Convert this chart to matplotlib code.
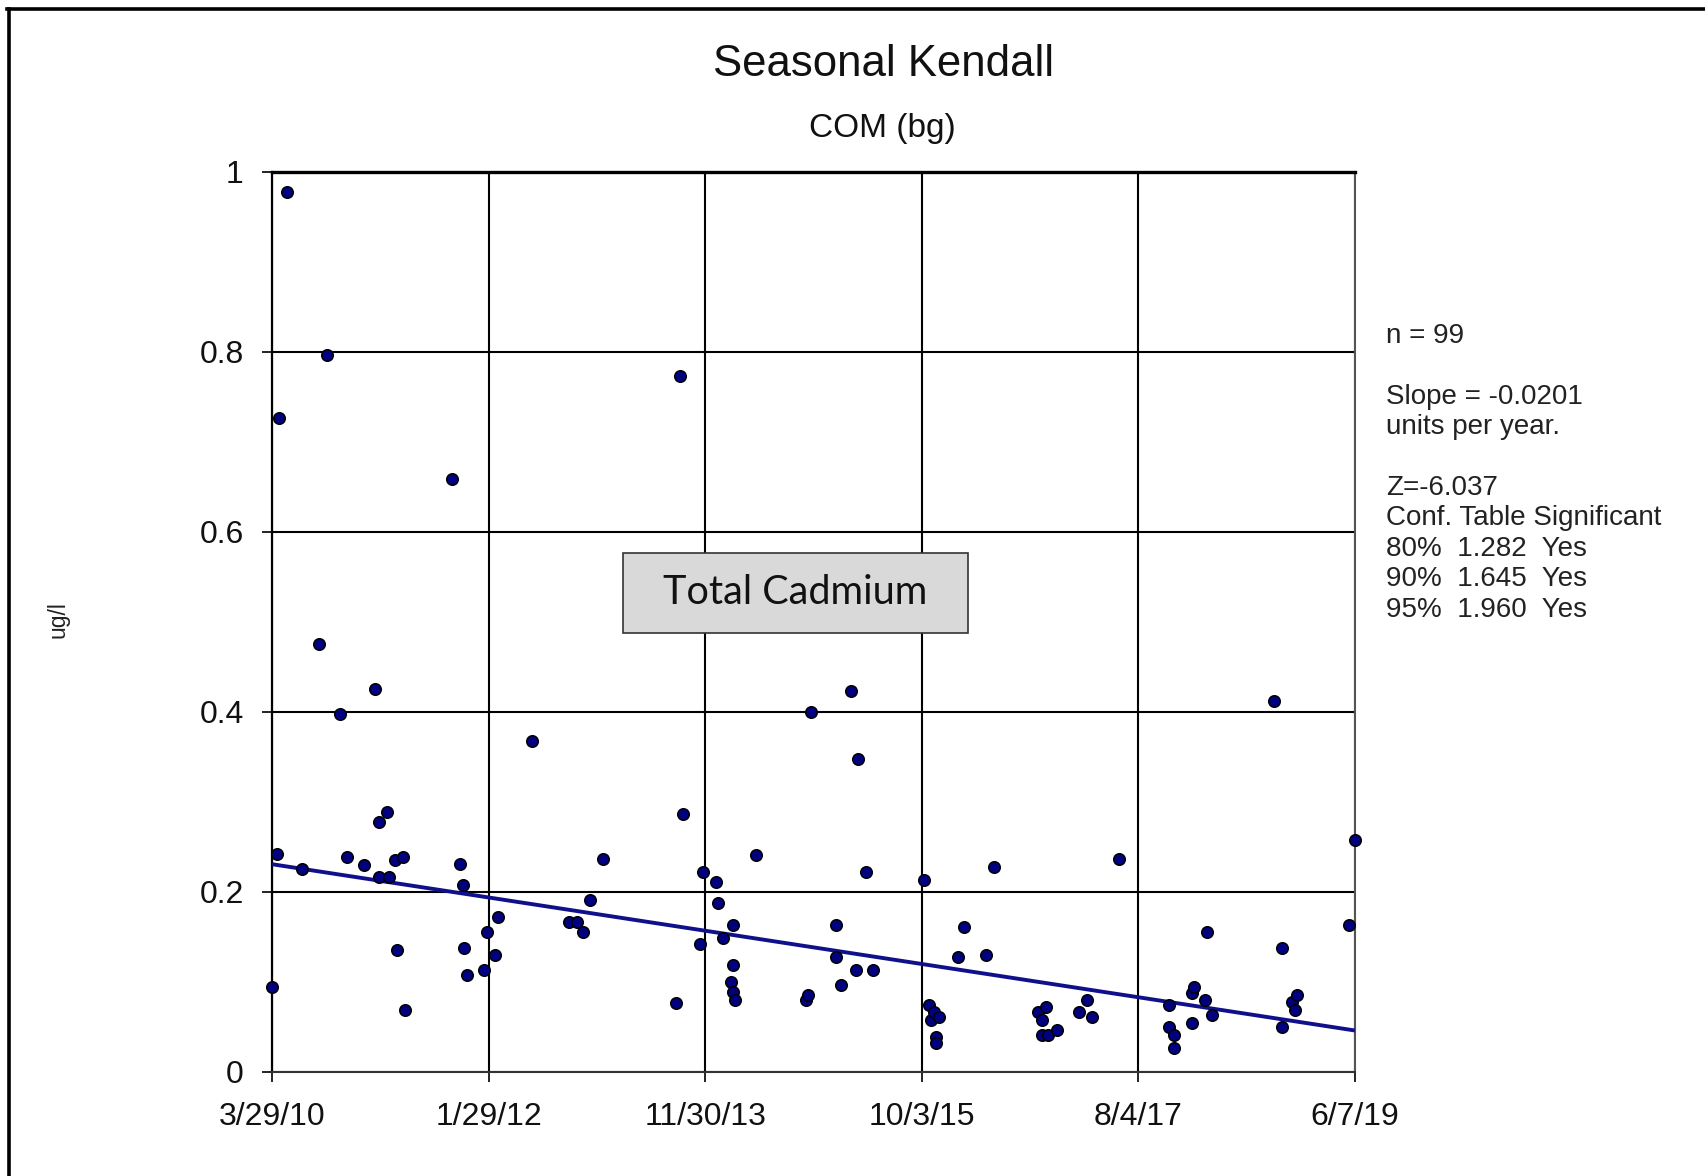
#!/usr/bin/env python
"""
Seasonal Kendall trend plot for Total Cadmium, COM (bg).

Writes:
    out.png
"""

import datetime as dt

import matplotlib
matplotlib.use("Agg")
import matplotlib.pyplot as plt
import matplotlib.dates as mdates
from matplotlib.patches import Rectangle
from matplotlib.lines import Line2D


# ---------------------- data ---------------------- #

sample_dates = [
    "2010-03-29", "2010-04-12", "2010-04-19", "2010-05-13", "2010-06-29",
    "2010-08-22", "2010-09-14", "2010-10-24", "2010-11-15", "2011-01-08",
    "2011-02-10", "2011-02-24", "2011-02-24", "2011-03-20", "2011-03-27",
    "2011-04-13", "2011-04-21", "2011-05-07", "2011-05-14", "2011-10-08",
    "2011-11-01", "2011-11-09", "2011-11-14", "2011-11-23", "2012-01-15",
    "2012-01-25", "2012-02-17", "2012-02-26", "2012-06-12", "2012-10-05",
    "2012-10-30", "2012-11-16", "2012-12-09", "2013-01-16", "2013-08-31",
    "2013-09-14", "2013-09-22", "2013-11-15", "2013-11-24", "2014-01-02",
    "2014-01-09", "2014-01-24", "2014-02-17", "2014-02-24", "2014-02-24",
    "2014-02-24", "2014-03-04", "2014-05-06", "2014-10-08", "2014-10-16",
    "2014-10-23", "2015-01-09", "2015-01-10", "2015-01-25", "2015-02-25",
    "2015-03-13", "2015-03-20", "2015-04-12", "2015-05-05", "2015-10-09",
    "2015-10-24", "2015-10-31", "2015-11-09", "2015-11-17", "2015-11-17",
    "2015-11-25", "2016-01-24", "2016-02-10", "2016-04-20", "2016-05-14",
    "2016-09-28", "2016-10-09", "2016-10-09", "2016-10-22", "2016-10-29",
    "2016-11-24", "2017-02-01", "2017-02-25", "2017-03-13", "2017-06-05",
    "2017-11-07", "2017-11-08", "2017-11-24", "2017-11-24", "2018-01-17",
    "2018-01-17", "2018-01-25", "2018-02-26", "2018-03-05", "2018-03-21",
    "2018-09-30", "2018-10-24", "2018-10-24", "2018-11-24", "2018-12-02",
    "2018-12-09", "2019-05-20", "2019-06-07",
]

cadmium_ugl = [
    0.094, 0.2415, 0.726, 0.977, 0.225,
    0.475, 0.796, 0.397, 0.2385, 0.230,
    0.425, 0.277, 0.2167, 0.289, 0.2167,
    0.2356, 0.1356, 0.2386, 0.0686, 0.659,
    0.2304, 0.2074, 0.138, 0.1074, 0.113,
    0.155, 0.130, 0.1715, 0.367, 0.166,
    0.166, 0.155, 0.191, 0.236, 0.0767,
    0.773, 0.286, 0.1415, 0.2219, 0.2108,
    0.188, 0.149, 0.100, 0.1634, 0.1189,
    0.0886, 0.080, 0.2411, 0.080, 0.0852,
    0.400, 0.1274, 0.1634, 0.0963, 0.4226,
    0.1133, 0.347, 0.2216, 0.1133, 0.2134,
    0.0745, 0.0574, 0.066, 0.0382, 0.0322,
    0.0604, 0.127, 0.1604, 0.130, 0.2274,
    0.066, 0.0574, 0.0408, 0.0715, 0.0408,
    0.0463, 0.066, 0.080, 0.0604, 0.236,
    0.0745, 0.0493, 0.0408, 0.0267, 0.0878,
    0.0544, 0.0944, 0.080, 0.155, 0.063,
    0.4115, 0.138, 0.0493, 0.0771, 0.0686,
    0.0852, 0.1634, 0.258,
]

# Sen slope line
trend_dates = ["2010-03-29", "2019-06-07"]
trend_start = 0.2305
slope_per_year = -0.0201

x_tick_labels = ["3/29/10", "1/29/12", "11/30/13", "10/3/15", "8/4/17", "6/7/19"]
y_ticks = [0, 0.2, 0.4, 0.6, 0.8, 1]
y_tick_labels = ["0", "0.2", "0.4", "0.6", "0.8", "1"]

stats_lines = [
    "n = 99",
    "",
    "Slope = -0.0201",
    "units per year.",
    "",
    "Z=-6.037",
    "Conf. Table Significant",
    "80%  1.282  Yes",
    "90%  1.645  Yes",
    "95%  1.960  Yes",
]

W, H = 1705, 1176


def to_date(s):
    return dt.datetime.strptime(s, "%Y-%m-%d")


def fx(px):
    return px / W


def fy(py):
    return 1 - py / H


# ---------------------- plot ---------------------- #

def main():
    plt.rcParams["font.family"] = ["Liberation Sans", "DejaVu Sans"]

    fig = plt.figure(figsize=(W / 100, H / 100), dpi=100)
    ax = fig.add_axes([fx(272.3), fy(1071.7), fx(1355) - fx(272.3), fy(171.7) - fy(1071.7)])

    x = [to_date(d) for d in sample_dates]
    x0, x1 = to_date(trend_dates[0]), to_date(trend_dates[1])
    years = (x1 - x0).days / 365.25
    trend_y = [trend_start, trend_start + slope_per_year * years]

    ax.plot([x0, x1], trend_y, color="#10108c", lw=2.8, zorder=3, solid_capstyle="butt")
    ax.plot(x, cadmium_ugl, "o", ms=8.3, mfc="#000080", mec="black", mew=1.1,
            zorder=4, clip_on=False)

    ax.set_xlim(x0, x1)
    ax.set_ylim(0, 1)

    lo, hi = mdates.date2num(x0), mdates.date2num(x1)
    ticks = [lo + (hi - lo) * i / 5 for i in range(6)]
    ax.set_xticks(ticks)
    ax.set_xticklabels(x_tick_labels, fontsize=23, color="#111111")
    ax.set_yticks(y_ticks)
    ax.set_yticklabels(y_tick_labels, fontsize=23, color="#111111")

    ax.tick_params(axis="both", direction="out", length=7.5, width=1.4, color="#222222")
    ax.tick_params(axis="x", pad=14)
    ax.tick_params(axis="y", pad=13)

    ax.grid(True, color="black", lw=1.5)
    ax.set_axisbelow(True)

    ax.spines["top"].set_linewidth(2.4)
    ax.spines["top"].set_color("black")
    ax.spines["left"].set_linewidth(1.6)
    ax.spines["left"].set_color("black")
    ax.spines["right"].set_linewidth(1.5)
    ax.spines["right"].set_color("#555555")
    ax.spines["bottom"].set_linewidth(1.5)
    ax.spines["bottom"].set_color("#333333")

    # label box
    bx0, bx1 = (622.7 - 272.3) / 1082.7, (968.3 - 272.3) / 1082.7
    by0, by1 = (1071.7 - 632.7) / 900, (1071.7 - 552.7) / 900
    ax.add_patch(Rectangle((bx0, by0), bx1 - bx0, by1 - by0, transform=ax.transAxes,
                           facecolor="#d9d9d9", edgecolor="#333333", lw=1.2, zorder=5))
    ax.text((bx0 + bx1) / 2, (by0 + by1) / 2, "Total Cadmium", transform=ax.transAxes,
            ha="center", va="center", fontsize=28.5, family=["Lato", "DejaVu Sans"],
            color="#111111", zorder=6)

    # titles
    fig.text(fx(883), fy(64), "Seasonal Kendall", ha="center", va="center",
             fontsize=31.5, color="#111111")
    fig.text(fx(882), fy(129), "COM (bg)", ha="center", va="center",
             fontsize=24, color="#111111")
    fig.text(fx(58), fy(620), "ug/l", ha="center", va="center", rotation=90,
             fontsize=16.5, color="#222222")

    # stats text on the right
    line_y = 336
    for line in stats_lines:
        if line:
            fig.text(fx(1386), fy(line_y), line, ha="left", va="center",
                     fontsize=20, color="#222222")
        line_y += 30.4

    # outer frame (top and left edges)
    fig.add_artist(Line2D([fx(7), 1], [fy(8.5), fy(8.5)], color="black", lw=2.6))
    fig.add_artist(Line2D([fx(9), fx(9)], [fy(8.5), 0], color="black", lw=2.6))

    fig.savefig("out.png", dpi=100)
    plt.close(fig)


if __name__ == "__main__":
    main()
